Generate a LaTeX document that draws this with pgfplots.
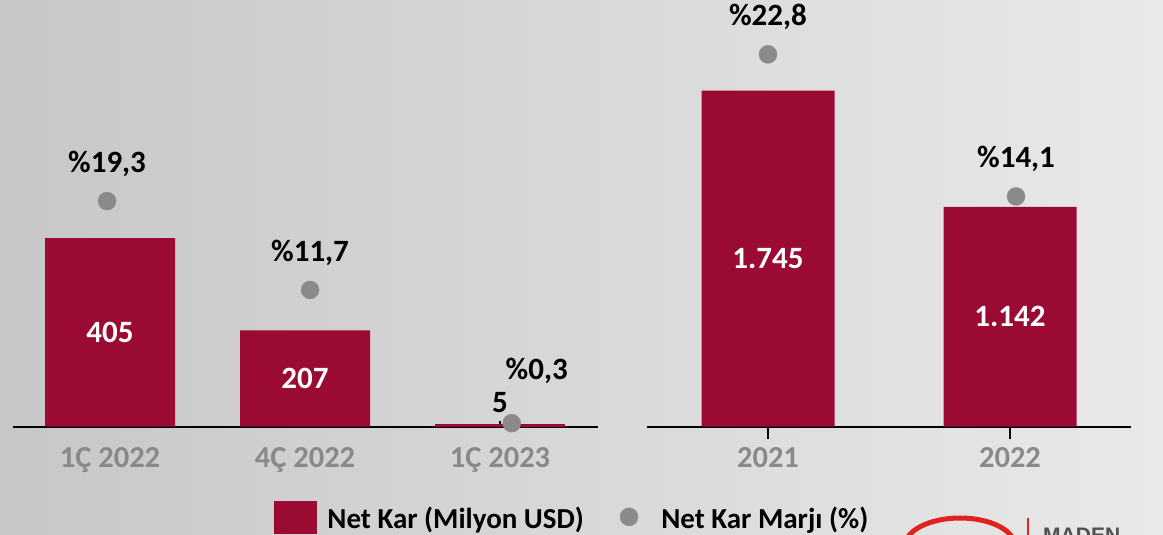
\documentclass[border=0pt]{standalone}
\usepackage{fontspec}
\setmainfont{Carlito}
\newfontfamily\logofont{Liberation Sans}
\usepackage{pgfplots}
\pgfplotsset{compat=1.18}
\definecolor{barcol}{RGB}{155,10,50}
\definecolor{dotcol}{RGB}{138,138,138}
\definecolor{tickcol}{RGB}{137,137,137}
\definecolor{bgL}{RGB}{199,199,199}
\definecolor{bgR}{RGB}{233,233,233}
\definecolor{logored}{RGB}{225,35,30}
\definecolor{logogray}{RGB}{80,80,80}
\newcommand{\tickfont}{\fontsize{30.5bp}{36bp}\selectfont\bfseries}
\newcommand{\labfont}{\fontsize{31bp}{36bp}\selectfont\bfseries}
\newcommand{\legfont}{\fontsize{29bp}{34bp}\selectfont\bfseries}
\pgfplotsset{
  base/.style={scale only axis, ymin=0, height=426.7bp, clip=false,
    anchor=south west, /pgf/number format/assume math mode=true},
  barax/.style={base, axis x line*=bottom, axis y line=none,
    x axis line style={-, line width=2bp, black},
    ytick=\empty, major tick style={black, line width=1.5bp},
    xticklabel style={font=\tickfont, text=tickcol, anchor=base, inner sep=0pt, yshift=#1}},
  dotax/.style={base, axis lines=none, xtick=\empty, ytick=\empty},
  barlab/.style={visualization depends on={rawy \as \ry},
    nodes near coords={\pgfmathprintnumber[fixed,precision=0,use comma]{\pgfplotspointmeta}},
    every node near coord/.append style={font=\labfont, text=white, anchor=center, yshift={-#1*\ry}}},
  dotplot/.style={only marks, mark=*, mark size=9bp, color=dotcol, mark options={draw=none, fill=dotcol},
    nodes near coords={\%\pgfmathprintnumber[fixed,fixed zerofill,precision=1,use comma]{\pgfplotspointmeta}},
    every node near coord/.append style={font=\labfont, text=black, anchor=base}},
}
\begin{document}
\begin{tikzpicture}
\path[use as bounding box] (0,0) rectangle (1163bp,535bp);
\clip (0,0) rectangle (1163bp,535bp);
\shade[left color=bgL, right color=bgR] (0,0) rectangle (1163bp,535bp);

% ---- left panel: bars
\begin{axis}[barax=-41bp, at={(12.5bp,108.3bp)}, width=585bp, xmin=-0.5, xmax=2.5, ymax=915.9,
  xtick={0,1,2}, xticklabels={1Ç 2022,4Ç 2022,1Ç 2023}, tick align=inside, major tick length=6bp]
\addplot[ybar, bar width=130bp, bar shift=0pt, fill=barcol, draw=none, barlab=0.23295]
  coordinates {(0,405) (1,207)};
\addplot[ybar, bar width=130bp, bar shift=0pt, fill=barcol, draw=none,
  nodes near coords={\pgfmathprintnumber{\pgfplotspointmeta}},
  every node near coord/.append style={font=\labfont, text=black, anchor=base, yshift=12bp}]
  coordinates {(2,5)};
\end{axis}

% ---- left panel: margin dots + legend
\begin{axis}[dotax, at={(12.5bp,108.3bp)}, width=585bp, xmin=-0.5, xmax=2.5, ymax=36.5,
  legend columns=2,
  legend style={at={(0.447,-0.2128)}, anchor=west, draw=none, fill=none, inner sep=0pt,
    outer sep=0pt, font=\legfont, nodes={inner sep=0pt}, column sep=0pt}]
\addlegendimage{legend image code/.code={\fill[barcol] (0bp,-15bp) rectangle (42bp,16.7bp); \path (53bp,0bp);}}
\addlegendentry{Net Kar (Milyon USD)}
\addplot[dotplot, every node near coord/.append style={yshift=28.5bp},
  legend image code/.code={\path (0bp,0bp); \fill[dotcol] (45bp,1.5bp) circle (9bp); \path (77bp,0bp);}]
  coordinates {(-0.015,19.3) (1.026,11.7)};
\addlegendentry{Net Kar Marjı (\%)}
\addplot[dotplot, forget plot, every node near coord/.append style={xshift=25bp, yshift=43.3bp}]
  coordinates {(2.06,0.3)};
\end{axis}

% ---- right panel: bars
\begin{axis}[barax=-29bp, at={(647bp,108.3bp)}, width=484bp, xmin=-0.5, xmax=1.5, ymax=2216,
  xtick={0,1}, xticklabels={2021,2022}, tick align=outside, major tick length=12bp]
\addplot[ybar, bar width=133bp, bar shift=0pt, fill=barcol, draw=none, barlab=0.096275]
  coordinates {(0,1745) (1,1142)};
\end{axis}

% ---- right panel: margin dots
\begin{axis}[dotax, at={(647bp,108.3bp)}, width=484bp, xmin=-0.5, xmax=1.5, ymax=26.13]
\addplot[dotplot, every node near coord/.append style={yshift=28.5bp}]
  coordinates {(0,22.8) (1.025,14.1)};
\end{axis}

% ---- logo fragment
\draw[logored, line width=5bp] (960bp,-11bp) ellipse [x radius=55bp, y radius=28bp];
\draw[logored, line width=1.5bp] (1028bp,0bp) -- (1028bp,17bp);
\node[anchor=base west, inner sep=0pt, text=logogray, font=\logofont\bfseries\fontsize{21bp}{24bp}\selectfont] at (1043bp,-7bp) {MADEN};
\end{tikzpicture}
\end{document}
